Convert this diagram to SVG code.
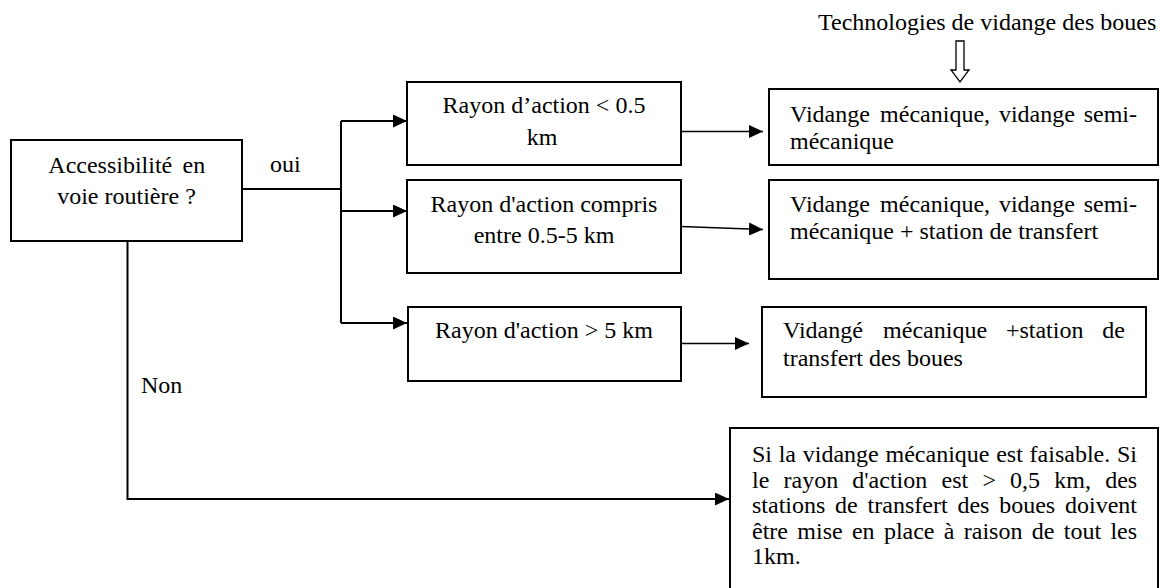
<svg xmlns="http://www.w3.org/2000/svg" width="1161" height="588" viewBox="0 0 1161 588">
  <style>
    text { font-family: "Liberation Serif", "Times New Roman", serif; font-size: 24px; fill: #000; }
    .box { fill: #fff; stroke: #000; stroke-width: 2; }
    .c { text-anchor: middle; }
    .line { fill: none; stroke: #000; stroke-width: 2; }
    .thin { fill: none; stroke: #000; stroke-width: 1.5; }
  </style>
  <defs>
    <marker id="arr" viewBox="0 0 14 13" refX="14" refY="6.5" markerWidth="14" markerHeight="13" markerUnits="userSpaceOnUse" orient="auto">
      <path d="M0,0 L14,6.5 L0,13 Z" fill="#000"/>
    </marker>
  </defs>

  <rect width="1161" height="588" fill="#fff"/>

  <g id="connectors">
    <polyline class="line" points="242,189 341,189"/>
    <polyline class="line" points="341,121 341,323"/>
    <line class="line" x1="341" y1="121" x2="407" y2="121" marker-end="url(#arr)"/>
    <line class="line" x1="341" y1="211" x2="407" y2="211" marker-end="url(#arr)"/>
    <line class="line" x1="341" y1="323" x2="407" y2="323" marker-end="url(#arr)"/>
    <line class="thin" x1="681" y1="131.5" x2="763" y2="131.5" marker-end="url(#arr)"/>
    <line class="thin" x1="681" y1="226.5" x2="763" y2="229.5" marker-end="url(#arr)"/>
    <line class="thin" x1="681" y1="343.5" x2="749" y2="343.5" marker-end="url(#arr)"/>
    <polyline class="line" points="127.5,241 127.5,499 729,499" marker-end="url(#arr)"/>
    <text x="270" y="172">oui</text>
    <text x="141" y="393">Non</text>
  </g>

  <g id="title">
    <text x="818" y="30">Technologies de vidange des boues</text>
    <polygon points="956,41 964,41 964,70 969,70 960,82 951,70 956,70" fill="#fff" stroke="#000" stroke-width="1.3"/>
  </g>

  <g id="acces">
    <rect class="box" x="11" y="140" width="231" height="101"/>
    <text y="173"><tspan x="48.3">Accessibilité</tspan><tspan x="182.6">en</tspan></text>
    <text class="c" x="126.5" y="204">voie routière ?</text>
  </g>

  <g id="rayon1">
    <rect class="box" x="407" y="82" width="274" height="83"/>
    <text class="c" x="544" y="113">Rayon d’action &lt; 0.5</text>
    <text class="c" x="542" y="145">km</text>
  </g>

  <g id="rayon2">
    <rect class="box" x="407" y="180" width="274" height="93"/>
    <text class="c" x="544" y="212">Rayon d'action compris</text>
    <text class="c" x="544" y="243">entre 0.5-5 km</text>
  </g>

  <g id="rayon3">
    <rect class="box" x="408" y="307" width="273" height="74"/>
    <text class="c" x="544" y="338">Rayon d'action &gt; 5 km</text>
  </g>

  <g id="tech1">
    <rect class="box" x="769" y="89" width="389" height="76"/>
    <text y="122"><tspan x="790">Vidange</tspan><tspan x="880.1">mécanique,</tspan><tspan x="998.9">vidange</tspan><tspan x="1083.7">semi-</tspan></text>
    <text x="790" y="148.5">mécanique</text>
  </g>

  <g id="tech2">
    <rect class="box" x="769" y="180" width="389" height="99"/>
    <text y="212"><tspan x="790">Vidange</tspan><tspan x="880.1">mécanique,</tspan><tspan x="998.9">vidange</tspan><tspan x="1083.7">semi-</tspan></text>
    <text x="790" y="239">mécanique + station de transfert</text>
  </g>

  <g id="tech3">
    <rect class="box" x="762" y="307" width="384" height="90"/>
    <text y="338"><tspan x="783">Vidangé</tspan><tspan x="883.1">mécanique</tspan><tspan x="1005.9">+station</tspan><tspan x="1102.2">de</tspan></text>
    <text x="783" y="366">transfert des boues</text>
  </g>

  <g id="non-result">
    <rect class="box" x="730" y="428" width="428" height="180"/>
    <text y="462"><tspan x="752">Si</tspan><tspan x="778.7">la</tspan><tspan x="802.8">vidange</tspan><tspan x="885.5">mécanique</tspan><tspan x="996.2">est</tspan><tspan x="1029.6">faisable.</tspan><tspan x="1116.9">Si</tspan></text>
    <text y="487.5"><tspan x="752">le</tspan><tspan x="783.5">rayon</tspan><tspan x="852.3">d'action</tspan><tspan x="941.5">est</tspan><tspan x="982.4">&gt;</tspan><tspan x="1010.1">0,5</tspan><tspan x="1054.3">km,</tspan><tspan x="1105.2">des</tspan></text>
    <text y="513"><tspan x="752">stations</tspan><tspan x="835.1">de</tspan><tspan x="867.6">transfert</tspan><tspan x="957.4">des</tspan><tspan x="999.2">boues</tspan><tspan x="1065">doivent</tspan></text>
    <text y="538.5"><tspan x="752">être</tspan><tspan x="797.3">mise</tspan><tspan x="851.9">en</tspan><tspan x="883.9">place</tspan><tspan x="943.8">à</tspan><tspan x="963.8">raison</tspan><tspan x="1031.8">de</tspan><tspan x="1063.8">tout</tspan><tspan x="1110.4">les</tspan></text>
    <text x="752" y="564">1km.</text>
  </g>
</svg>
